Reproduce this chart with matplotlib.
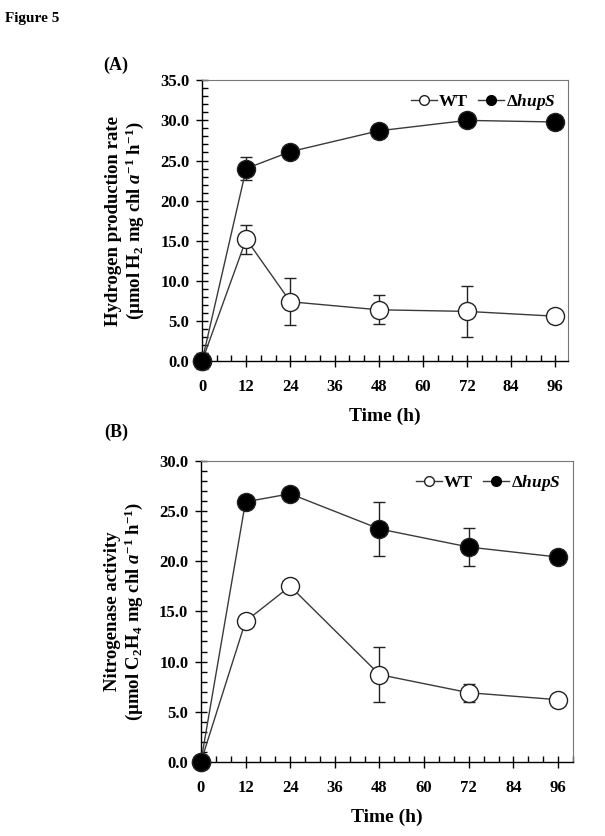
import matplotlib
matplotlib.use("Agg")
import matplotlib.pyplot as plt
from matplotlib.lines import Line2D
from matplotlib.ticker import MultipleLocator, FormatStrFormatter

plt.rcParams['font.family'] = ['Liberation Serif', 'DejaVu Serif']
plt.rcParams['font.weight'] = 'bold'
plt.rcParams['mathtext.fontset'] = 'custom'
plt.rcParams['mathtext.rm'] = 'Liberation Serif:bold'
plt.rcParams['mathtext.it'] = 'Liberation Serif:italic:bold'
plt.rcParams['mathtext.bf'] = 'Liberation Serif:bold'

# time points (h)
hours = [0, 12, 24, 48, 72, 96]

# panel A: hydrogen production rate
h2_wt = [0.0, 15.2, 7.4, 6.4, 6.2, 5.6]
h2_wt_err = [1.0, 1.8, 2.9, 1.8, 3.2, 0.0]
h2_hups = [0.0, 24.0, 26.1, 28.7, 30.0, 29.8]
h2_hups_err = [0.0, 1.4, 0.5, 0.0, 0.0, 0.0]

# panel B: nitrogenase activity
n2_wt = [0.0, 14.0, 17.5, 8.7, 6.9, 6.2]
n2_wt_err = [0.0, 0.0, 0.0, 2.7, 0.9, 0.0]
n2_hups = [0.0, 25.9, 26.7, 23.2, 21.4, 20.4]
n2_hups_err = [0.0, 0.0, 0.0, 2.7, 1.85, 0.0]

line_col = '#3a3a3a'


def draw_panel(ax, wt, wt_err, mut, mut_err, ymax, xmax, ylabel):
    for vals, err, fc, z in [(wt, wt_err, 'white', 3), (mut, mut_err, 'black', 4)]:
        _, caps, bars = ax.errorbar(hours, vals, yerr=err, color=line_col, lw=1.0,
                                    marker='o', ms=13, mfc=fc, mec='#222222', mew=1.0,
                                    ecolor='#222222', elinewidth=1.0, capsize=4,
                                    capthick=1.0, zorder=z)
        for a in list(caps) + list(bars):
            a.set_clip_on(False)
        for ln in ax.lines:
            ln.set_clip_on(False)
    ax.set_xlim(0, xmax)
    ax.set_ylim(0, ymax)
    ax.xaxis.set_major_locator(MultipleLocator(12))
    ax.xaxis.set_minor_locator(MultipleLocator(4))
    ax.yaxis.set_major_locator(MultipleLocator(5))
    ax.yaxis.set_minor_locator(MultipleLocator(1))
    ax.yaxis.set_major_formatter(FormatStrFormatter('%.1f'))
    ax.tick_params(axis='x', which='major', direction='inout', length=8, width=1,
                   pad=9, labelsize=12)
    ax.tick_params(axis='x', which='minor', direction='in', length=4, width=1)
    ax.tick_params(axis='y', which='major', direction='inout', length=8, width=1,
                   pad=5, labelsize=12)
    ax.tick_params(axis='y', which='minor', direction='in', length=4, width=1)
    for s in ['top', 'right']:
        ax.spines[s].set_color('#777777')
    for s in ['left', 'bottom']:
        ax.spines[s].set_color('black')
        ax.spines[s].set_linewidth(1.0)
    ax.set_xlabel('Time (h)', fontsize=14, fontweight='bold', labelpad=9)
    ax.set_ylabel(ylabel, fontsize=13.5, fontweight='bold', labelpad=10, linespacing=1.1)
    handles = [Line2D([], [], color=line_col, lw=1.0, marker='o', ms=7, mfc='white',
                      mec='#222222', mew=1.0),
               Line2D([], [], color=line_col, lw=1.0, marker='o', ms=7, mfc='black',
                      mec='black', mew=1.0)]
    ax.legend(handles, ['WT', 'Δ$\\mathit{hupS}$'], loc='upper right', ncol=2,
              frameon=False, fontsize=12.5, handlelength=1.5, handletextpad=0.1,
              columnspacing=0.6, borderaxespad=0.3)


fig = plt.figure(figsize=(6.05, 8.36), dpi=100)
fig.text(0.008, 0.978, 'Figure 5', fontsize=11, fontweight='bold', va='center')

axA = fig.add_axes([0.334, 0.568, 0.605, 0.336])
draw_panel(axA, h2_wt, h2_wt_err, h2_hups, h2_hups_err, 35, 99.5,
           'Hydrogen production rate\n(µmol H$_2$ mg chl $a^{-1}$ h$^{-1}$)')
fig.text(0.170, 0.922, '(A)', fontsize=13, fontweight='bold', va='center')

axB = fig.add_axes([0.332, 0.0885, 0.615, 0.3605])
draw_panel(axB, n2_wt, n2_wt_err, n2_hups, n2_hups_err, 30, 100,
           'Nitrogenase activity\n(µmol C$_2$H$_4$ mg chl $a^{-1}$ h$^{-1}$)')
fig.text(0.172, 0.483, '(B)', fontsize=13, fontweight='bold', va='center')

fig.savefig('out.png', dpi=100)
